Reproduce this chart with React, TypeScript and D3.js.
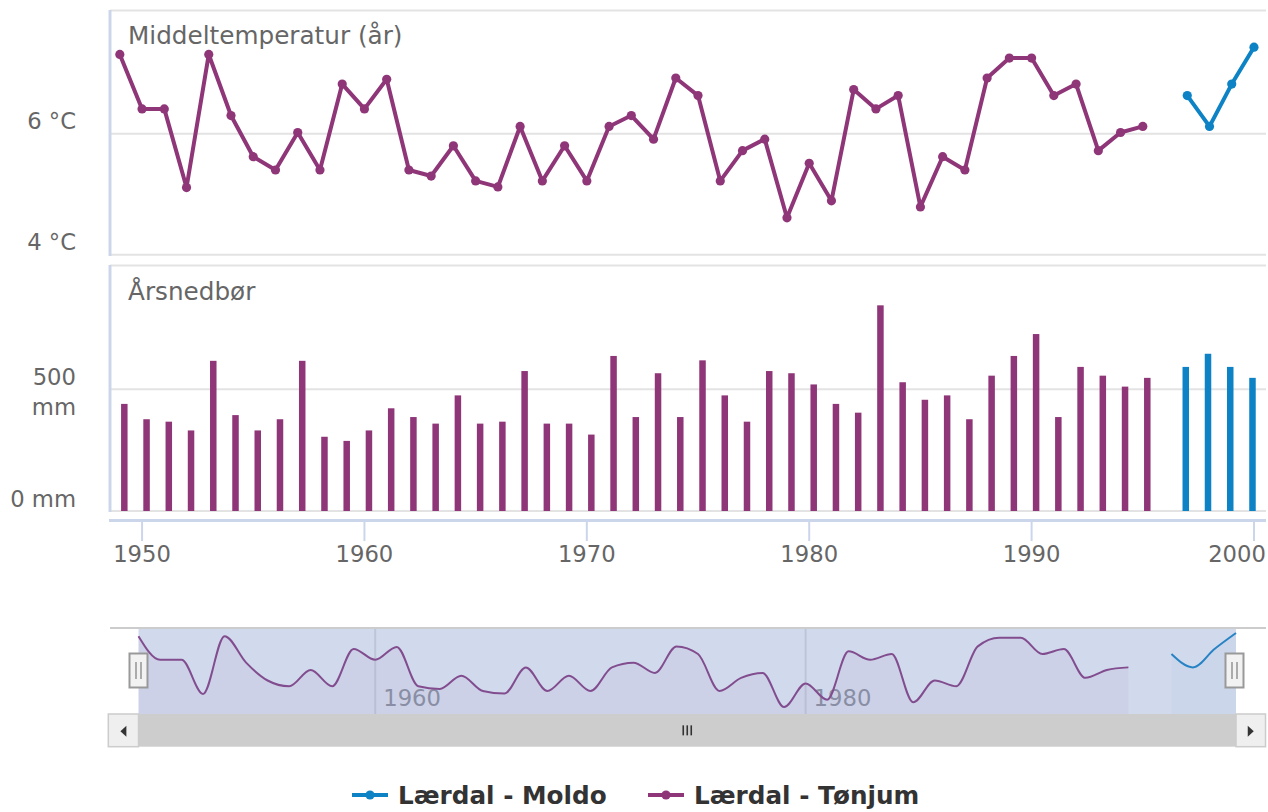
import React from 'react';
import * as d3 from 'd3';

const W = 1268;
const H = 812;
const FONT = '"DejaVu Sans", sans-serif';
const PURPLE = '#8f3679';
const BLUE = '#0d83c5';

const tonjumYears = [1949, 1950, 1951, 1952, 1953, 1954, 1955, 1956, 1957, 1958, 1959, 1960, 1961, 1962, 1963, 1964, 1965, 1966, 1967, 1968, 1969, 1970, 1971, 1972, 1973, 1974, 1975, 1976, 1977, 1978, 1979, 1980, 1981, 1982, 1983, 1984, 1985, 1986, 1987, 1988, 1989, 1990, 1991, 1992, 1993, 1994, 1995];
const tonjumTemp = [7.31, 6.41, 6.41, 5.11, 7.31, 6.3, 5.62, 5.4, 6.02, 5.4, 6.82, 6.41, 6.9, 5.4, 5.3, 5.8, 5.22, 5.12, 6.12, 5.22, 5.8, 5.22, 6.12, 6.3, 5.91, 6.92, 6.63, 5.22, 5.72, 5.91, 4.61, 5.51, 4.89, 6.73, 6.41, 6.63, 4.79, 5.62, 5.4, 6.92, 7.25, 7.25, 6.63, 6.82, 5.72, 6.02, 6.12];
const tonjumPrecip = [440, 377, 367, 331, 617, 394, 331, 377, 617, 305, 288, 331, 422, 386, 359, 475, 359, 367, 575, 359, 359, 314, 637, 386, 566, 386, 619, 475, 367, 575, 566, 520, 440, 404, 845, 529, 457, 475, 377, 556, 637, 727, 386, 592, 556, 511, 547];
const moldoYears = [1997, 1998, 1999, 2000];
const moldoTemp = [6.63, 6.12, 6.82, 7.43];
const moldoPrecip = [592, 646, 592, 547];

const xTicks = [1950, 1960, 1970, 1980, 1990, 2000];
const tempTicks = [4, 6, 8];
const precipTicks = [0, 500, 1000];
const navTicks = [1960, 1980];
const seriesNames = ['Lærdal - Moldo', 'Lærdal - Tønjum'];

type Pt = [number, number];

export default function App() {
  const left = 110;
  const right = 1266;
  const x = d3.scaleLinear().domain([1948.5, 2000.5]).range([108.7, 1265.1]);
  const yT = d3.scaleLinear().domain([4, 8]).range([254.7, 12.7]);
  const yP = d3.scaleLinear().domain([0, 1000]).range([511, 267.6]);

  const allTemps = [...tonjumTemp, ...moldoTemp];
  const navTop = 628;
  const navBottom = 714;
  const navX = d3.scaleLinear().domain([1949, 2000]).range([138.5, 1236]);
  const navY = d3.scaleLinear().domain(d3.extent(allTemps) as [number, number]).range([707, 633]);

  const tonjumPts: Pt[] = tonjumYears.map((yr, i) => [yr, tonjumTemp[i]]);
  const moldoPts: Pt[] = moldoYears.map((yr, i) => [yr, moldoTemp[i]]);

  const line = d3.line<Pt>().x(d => x(d[0])).y(d => yT(d[1]));
  const navLine = d3.line<Pt>().x(d => navX(d[0])).y(d => navY(d[1])).curve(d3.curveMonotoneX);
  const navArea = d3.area<Pt>().x(d => navX(d[0])).y0(navBottom).y1(d => navY(d[1])).curve(d3.curveMonotoneX);

  const barW = 6.5;
  const gridColor = '#e3e3e3';
  const axisColor = '#ccd6eb';
  const labelColor = '#666666';
  const fsLabel = 22.7;
  const fsTitle = 24.7;
  const labelHalfW = 29;

  const maskL = navX(1949);
  const maskR = navX(2000);
  const sbTop = 714;
  const sbBot = 746.7;
  const sbMid = (sbTop + sbBot) / 2;
  const btnL0 = 108.3;
  const btnR1 = 1265.5;

  const handle = (cx: number, key: string) => (
    <g key={key}>
      <rect x={cx - 9} y={653.5} width={18} height={34} fill="#f2f2f2" stroke="#999999" strokeWidth={2} />
      <line x1={cx - 2.5} x2={cx - 2.5} y1={662} y2={679} stroke="#999999" strokeWidth={1.6} />
      <line x1={cx + 2.5} x2={cx + 2.5} y1={662} y2={679} stroke="#999999" strokeWidth={1.6} />
    </g>
  );

  const gripX = (maskL + maskR) / 2;

  return (
    <svg width={W} height={H} style={{ position: 'absolute', left: 0, top: 0, fontFamily: FONT }}>
      <rect x={0} y={0} width={W} height={H} fill="#ffffff" />

      {/* top panel grid */}
      <line x1={left} x2={right} y1={10.5} y2={10.5} stroke={gridColor} strokeWidth={2} />
      {tempTicks.filter(t => t < 8).map(t => (
        <line key={'tg' + t} x1={left} x2={right} y1={yT(t)} y2={yT(t)} stroke={gridColor} strokeWidth={2} />
      ))}
      {tempTicks.filter(t => t < 8).map(t => (
        <text key={'tl' + t} x={76} y={yT(t) - 5} textAnchor="end" fontSize={fsLabel} fill={labelColor}>{`${t} °C`}</text>
      ))}
      <line x1={left} x2={left} y1={10} y2={256} stroke={axisColor} strokeWidth={3} />
      <text x={128} y={43.5} fontSize={fsTitle} fill={labelColor}>Middeltemperatur (år)</text>

      {/* bottom panel grid */}
      <line x1={left} x2={right} y1={265.5} y2={265.5} stroke={gridColor} strokeWidth={2} />
      {precipTicks.filter(t => t < 1000).map(t => (
        <line key={'pg' + t} x1={left} x2={right} y1={yP(t)} y2={yP(t)} stroke={gridColor} strokeWidth={2} />
      ))}
      <text x={76} y={yP(0) - 4.5} textAnchor="end" fontSize={fsLabel} fill={labelColor}>0 mm</text>
      <text textAnchor="end" fontSize={fsLabel} fill={labelColor}>
        <tspan x={76} y={yP(500) - 4.5}>500</tspan>
        <tspan x={76} dy={30.5}>mm</tspan>
      </text>
      <line x1={left} x2={left} y1={265} y2={512} stroke={axisColor} strokeWidth={3} />
      <text x={128} y={299.5} fontSize={fsTitle} fill={labelColor}>Årsnedbør</text>

      {/* bars */}
      {tonjumYears.map((yr, i) => (
        <rect key={'tb' + yr} x={x(yr) + 4.5 - barW / 2} y={yP(tonjumPrecip[i])} width={barW} height={yP(0) - yP(tonjumPrecip[i])} fill={PURPLE} />
      ))}
      {moldoYears.map((yr, i) => (
        <rect key={'mb' + yr} x={x(yr) - 1.5 - barW / 2} y={yP(moldoPrecip[i])} width={barW} height={yP(0) - yP(moldoPrecip[i])} fill={BLUE} />
      ))}

      {/* lines */}
      <path d={line(tonjumPts) || ''} fill="none" stroke={PURPLE} strokeWidth={4} strokeLinejoin="round" />
      {tonjumPts.map(p => (
        <circle key={'tp' + p[0]} cx={x(p[0])} cy={yT(p[1])} r={4.6} fill={PURPLE} />
      ))}
      <path d={line(moldoPts) || ''} fill="none" stroke={BLUE} strokeWidth={4} strokeLinejoin="round" />
      {moldoPts.map(p => (
        <circle key={'mp' + p[0]} cx={x(p[0])} cy={yT(p[1])} r={4.6} fill={BLUE} />
      ))}

      {/* x axis */}
      <line x1={left - 1} x2={right} y1={520.5} y2={520.5} stroke={axisColor} strokeWidth={3} />
      {xTicks.map(t => (
        <g key={'xt' + t}>
          <line x1={x(t)} x2={x(t)} y1={520} y2={541} stroke={axisColor} strokeWidth={2} />
          <text x={Math.min(x(t), W - 2 - labelHalfW)} y={561.5} textAnchor="middle" fontSize={fsLabel} fill={labelColor}>{t}</text>
        </g>
      ))}

      {/* navigator */}
      {navTicks.map(t => (
        <g key={'nt' + t}>
          <line x1={navX(t)} x2={navX(t)} y1={navTop} y2={navBottom} stroke="#e3e3e3" strokeWidth={2} />
          <text x={navX(t) + 8} y={706} fontSize={fsLabel} fill="#999999">{t}</text>
        </g>
      ))}
      <path d={navArea(tonjumPts) || ''} fill={PURPLE} fillOpacity={0.06} />
      <path d={navArea(moldoPts) || ''} fill={BLUE} fillOpacity={0.04} />
      <path d={navLine(tonjumPts) || ''} fill="none" stroke={PURPLE} strokeWidth={2} />
      <path d={navLine(moldoPts) || ''} fill="none" stroke={BLUE} strokeWidth={2} />
      <rect x={maskL} y={navTop} width={maskR - maskL} height={navBottom - navTop} fill="rgba(102,133,194,0.3)" />
      <line x1={left} x2={right} y1={navTop} y2={navTop} stroke="#cccccc" strokeWidth={2} />

      {/* scrollbar */}
      <rect x={maskL} y={sbTop} width={maskR - maskL} height={sbBot - sbTop} fill="#cdcdcd" />
      <rect x={btnL0} y={sbTop} width={maskL - btnL0} height={sbBot - sbTop} fill="#efefef" stroke="#cccccc" strokeWidth={1.5} />
      <rect x={maskR} y={sbTop} width={btnR1 - maskR} height={sbBot - sbTop} fill="#efefef" stroke="#cccccc" strokeWidth={1.5} />
      <path d={`M${(btnL0 + maskL) / 2 - 3},${sbMid + 1} L${(btnL0 + maskL) / 2 + 3},${sbMid - 4.5} L${(btnL0 + maskL) / 2 + 3},${sbMid + 6.5} Z`} fill="#333333" />
      <path d={`M${(maskR + btnR1) / 2 + 3},${sbMid + 1} L${(maskR + btnR1) / 2 - 3},${sbMid - 4.5} L${(maskR + btnR1) / 2 - 3},${sbMid + 6.5} Z`} fill="#333333" />
      {[-4, 0, 4].map(d => (
        <line key={'g' + d} x1={gripX + d} x2={gripX + d} y1={sbMid - 5} y2={sbMid + 5} stroke="#333333" strokeWidth={1.6} />
      ))}

      {handle(maskL, 'hl')}
      {handle(maskR - 1.5, 'hr')}

      {/* legend */}
      {seriesNames.map((name, i) => {
        const sx = i === 0 ? 352 : 648;
        const col = i === 0 ? BLUE : PURPLE;
        return (
          <g key={name}>
            <line x1={sx} x2={sx + 36} y1={795} y2={795} stroke={col} strokeWidth={4} />
            <circle cx={sx + 18} cy={795} r={4.6} fill={col} />
            <text x={sx + 46} y={804} fontSize={fsTitle} fontWeight="bold" fill="#333333">{name}</text>
          </g>
        );
      })}
    </svg>
  );
}
